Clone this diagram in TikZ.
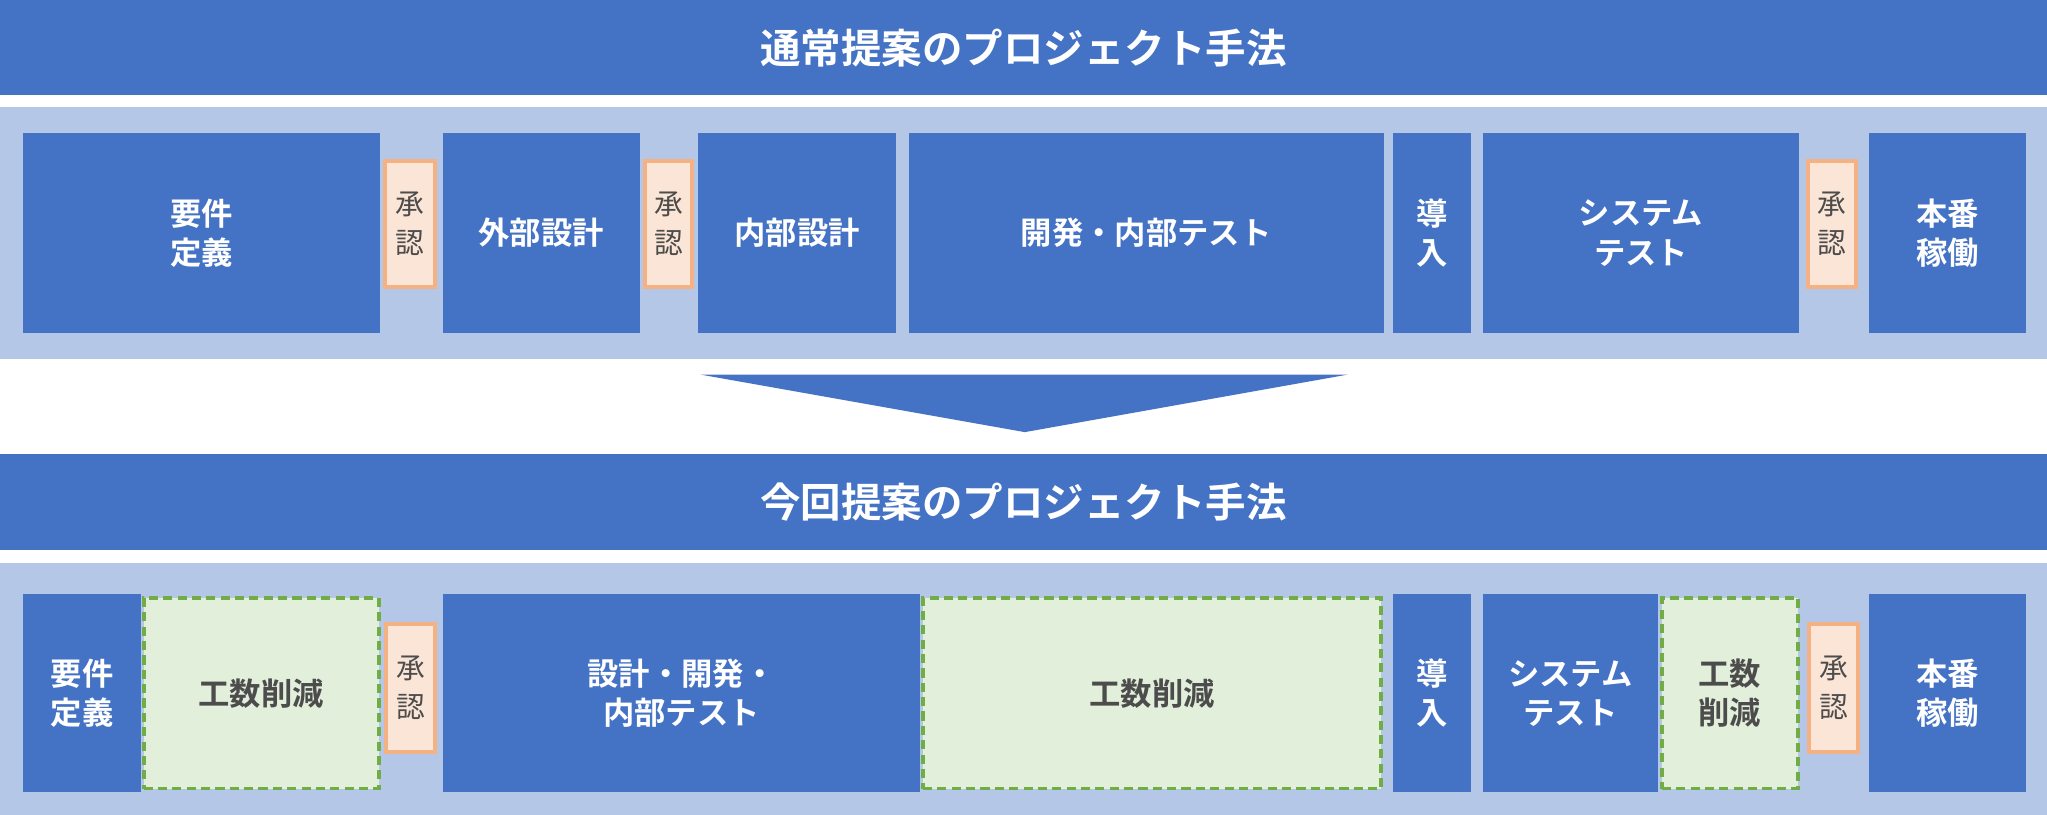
\documentclass[tikz,border=0pt]{standalone}
\usepackage{fontspec}
\newfontfamily\jp{Noto Sans CJK JP}
\newfontfamily\jpb{Noto Sans CJK JP Bold}
\definecolor{blu}{HTML}{4472C4}
\definecolor{lblu}{HTML}{B4C7E7}
\definecolor{ofill}{HTML}{FBE5D6}
\definecolor{oline}{HTML}{F4B183}
\definecolor{gfill}{HTML}{E2EFDA}
\definecolor{gline}{HTML}{70AD47}
\tikzset{
 box/.style={fill=blu,text=white,font=\jpb\fontsize{24}{30}\selectfont,align=center,inner sep=0pt},
 ok/.style={fill=ofill,draw=oline,line width=3pt,text=black!70,font=\jp\fontsize{22}{30}\selectfont,align=center,inner sep=0pt},
 cut/.style={fill=gfill,draw=gline,line width=3pt,dashed,dash pattern=on 7pt off 4pt,text=black!70,font=\jpb\fontsize{24}{30}\selectfont,align=center,inner sep=0pt},
 title/.style={fill=blu,text=white,font=\jpb\fontsize{31}{36}\selectfont,inner sep=0pt},
 band/.style={fill=lblu,inner sep=0pt}
}
\newcommand\bx[7]{\node[#6,minimum width={(#4-#2)*1pt},minimum height={(#5-#3)*1pt}] (#1) at ({(#2+#4)/2},{(#3+#5)/2}) {#7};}
\begin{document}
\begin{tikzpicture}[x=1pt,y=-1pt]
\useasboundingbox[fill=white] (0,0) rectangle (1568,624);
\bx{t1}{0}{0}{1568}{73}{title}{通常提案のプロジェクト手法}
\bx{b1}{0}{82}{1568}{275}{band}{}
\bx{a1}{18}{102}{291}{255}{box}{要件\\定義}
\bx{a2}{295}{123}{333}{220}{ok}{承\\認}
\bx{a3}{339}{102}{490}{255}{box}{外部設計}
\bx{a4}{494}{123}{530}{220}{ok}{承\\認}
\bx{a5}{535}{102}{686}{255}{box}{内部設計}
\bx{a6}{696}{102}{1060}{255}{box}{開発・内部テスト}
\bx{a7}{1067}{102}{1127}{255}{box}{導\\入}
\bx{a8}{1136}{102}{1378}{255}{box}{システム\\テスト}
\bx{a9}{1385}{123}{1422}{220}{ok}{承\\認}
\bx{a10}{1432}{102}{1552}{255}{box}{本番\\稼働}
\fill[blu] (537,287) -- (1032,287) -- (785,331) -- cycle;
\bx{t2}{0}{348}{1568}{421}{title}{今回提案のプロジェクト手法}
\bx{b2}{0}{431}{1568}{624}{band}{}
\bx{c1}{18}{455}{108}{607}{box}{要件\\定義}
\bx{c2}{110}{458}{290}{604}{cut}{工数削減}
\bx{c3}{296}{478}{333}{576}{ok}{承\\認}
\bx{c4}{339}{455}{705}{607}{box}{設計・開発・\\内部テスト}
\bx{c5}{707}{458}{1058}{604}{cut}{工数削減}
\bx{c6}{1067}{455}{1127}{607}{box}{導\\入}
\bx{c7}{1136}{455}{1270}{607}{box}{システム\\テスト}
\bx{c8}{1273}{458}{1377}{604}{cut}{工数\\削減}
\bx{c9}{1386}{478}{1423}{576}{ok}{承\\認}
\bx{c10}{1432}{455}{1552}{607}{box}{本番\\稼働}
\end{tikzpicture}
\end{document}
